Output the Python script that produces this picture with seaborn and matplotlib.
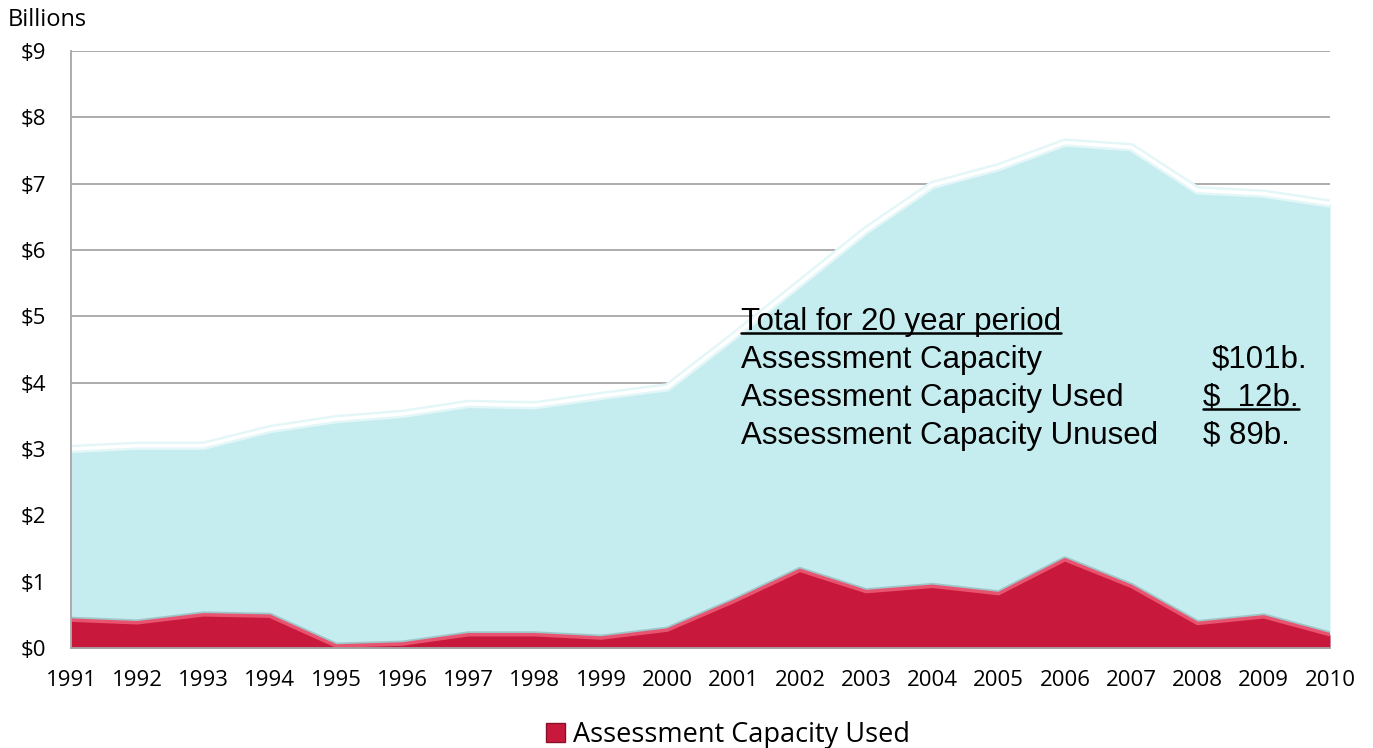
import matplotlib
matplotlib.use("Agg")
import matplotlib.pyplot as plt
import matplotlib.patheffects as pe
from matplotlib.patches import Patch
import pandas as pd
import seaborn as sns

years = list(range(1991, 2011))
capacity = [3.00, 3.05, 3.05, 3.30, 3.45, 3.53, 3.68, 3.66, 3.80, 3.93,
            4.70, 5.50, 6.30, 6.98, 7.25, 7.62, 7.55, 6.90, 6.85, 6.70]
used = [0.42, 0.38, 0.50, 0.48, 0.03, 0.06, 0.20, 0.20, 0.15, 0.27,
        0.70, 1.17, 0.85, 0.93, 0.82, 1.33, 0.93, 0.37, 0.47, 0.20]
y_ticks = list(range(0, 10))
y_tick_labels = ["$" + str(v) for v in y_ticks]

summary_labels = ["Assessment Capacity", "Assessment Capacity Used", "Assessment Capacity Unused"]
summary_values = ["$101b.", "$  12b.", "$ 89b."]

df = pd.DataFrame({"year": years, "capacity": capacity, "used": used})

sns.set_theme(style="white")
plt.rcParams["font.family"] = ["Open Sans", "DejaVu Sans"]
plt.rcParams["text.color"] = "black"
plt.rcParams["xtick.color"] = "black"
plt.rcParams["ytick.color"] = "black"

BLUE = "#c5ecef"
RED = "#c8193c"

fig = plt.figure(figsize=(13.73, 7.48), dpi=100)
ax = fig.add_axes([0.0517, 0.1337, 0.9170, 0.7981])

# grid lines
for v in y_ticks[1:]:
    ax.axhline(v, color="#a6a6a6", lw=1.3, zorder=0)

# total capacity area
ax.fill_between(df["year"], 0, df["capacity"], color=BLUE, lw=0, zorder=2)
sns.lineplot(data=df, x="year", y="capacity", ax=ax, color="#9fb9bd", lw=3,
             alpha=0.6, zorder=2.5, legend=False)
sns.lineplot(data=df, x="year", y="capacity", ax=ax, color="white", lw=2.5,
             zorder=3, legend=False,
             path_effects=[pe.Stroke(linewidth=6, foreground="#e4f7f8"), pe.Normal()])

# used area
ax.fill_between(df["year"], 0, df["used"], color=RED, lw=0, zorder=4)
sns.lineplot(data=df, x="year", y="used", ax=ax, color="#5a7f82", lw=5,
             alpha=0.35, zorder=3.8, legend=False)
sns.lineplot(data=df, x="year", y="used", ax=ax, color="#e8546f", lw=2.5,
             zorder=4.5, legend=False)

ax.set_xlim(1991, 2010)
ax.set_ylim(0, 9)
ax.set_xticks(years)
ax.set_xticklabels([str(y) for y in years], fontsize=16)
ax.set_yticks(y_ticks)
ax.set_yticklabels(y_tick_labels, fontsize=16)
ax.tick_params(axis="x", pad=16, length=0)
ax.tick_params(axis="y", pad=18, length=0)
ax.set_xlabel("")
ax.set_ylabel("")
for side in ["top", "right"]:
    ax.spines[side].set_visible(False)
for side in ["left", "bottom"]:
    ax.spines[side].set_color("#a6a6a6")
    ax.spines[side].set_linewidth(1.3)
    ax.spines[side].set_zorder(5)

fig.text(0.006, 1 - 20 / 748, "Billions", fontsize=17, ha="left", va="center")

# summary box text
txt_kw = dict(fontsize=22.5, family=["Liberation Sans", "DejaVu Sans"], va="center",
              color="black", zorder=6)
title = fig.text(741 / 1373, 1 - 322 / 748, "Total for 20 year period", ha="left", **txt_kw)
rows_y = [360, 398, 436]
value_x = [1212, 1203, 1203]
value_texts = []
for lab, val, yy, xx in zip(summary_labels, summary_values, rows_y, value_x):
    fig.text(741 / 1373, 1 - yy / 748, lab, ha="left", **txt_kw)
    value_texts.append(fig.text(xx / 1373, 1 - yy / 748, val, ha="left", **txt_kw))

# underline title and "$ 12b."
fig.canvas.draw()
renderer = fig.canvas.get_renderer()
for t in [title, value_texts[1]]:
    bb = t.get_window_extent(renderer).transformed(fig.transFigure.inverted())
    fig.add_artist(plt.Line2D([bb.x0, bb.x1], [bb.y0 + 0.006, bb.y0 + 0.006],
                              transform=fig.transFigure, color="black", lw=1.8))

fig.legend(handles=[Patch(facecolor=RED, edgecolor="#8a1029", label="Assessment Capacity Used")],
           loc="center", bbox_to_anchor=(0.53, 1 - 735 / 748), frameon=False,
           fontsize=19.5, handlelength=0.7, handleheight=0.7, handletextpad=0.3)

fig.savefig("out.png", dpi=100)
